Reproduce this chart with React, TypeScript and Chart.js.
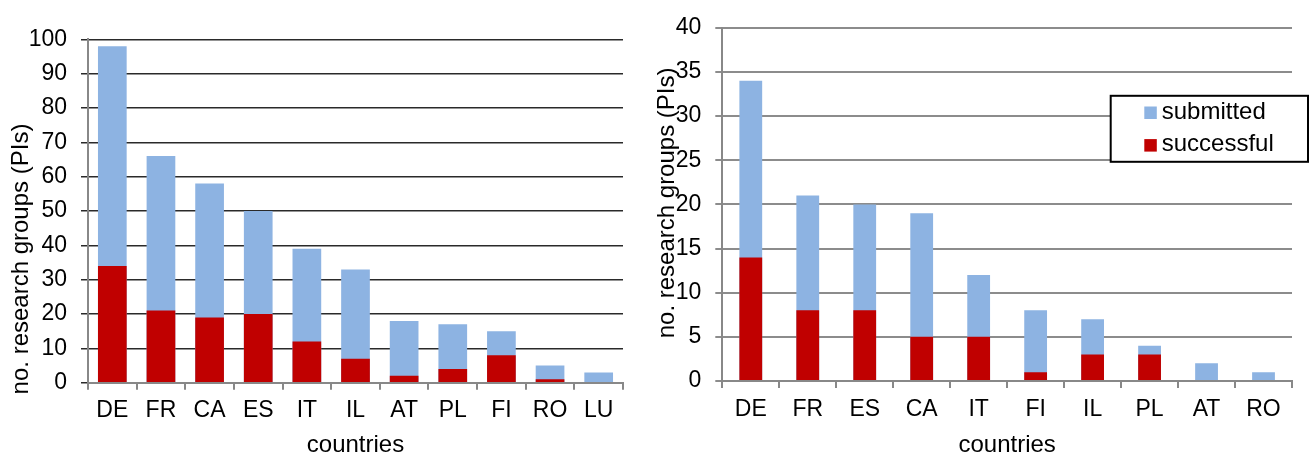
import { useEffect, useRef } from 'react';
import { Chart, registerables } from 'chart.js';

Chart.register(...registerables);

// ---- data ----
const leftCountries = ['DE', 'FR', 'CA', 'ES', 'IT', 'IL', 'AT', 'PL', 'FI', 'RO', 'LU'];
const leftSubmitted = [98, 66, 58, 50, 39, 33, 18, 17, 15, 5, 3];
const leftSuccessful = [34, 21, 19, 20, 12, 7, 2, 4, 8, 1, 0];

const rightCountries = ['DE', 'FR', 'ES', 'CA', 'IT', 'FI', 'IL', 'PL', 'AT', 'RO'];
const rightSubmitted = [34, 21, 20, 19, 12, 8, 7, 4, 2, 1];
const rightSuccessful = [14, 8, 8, 5, 5, 1, 3, 3, 0, 0];

const seriesLabels = ['submitted', 'successful'];
const seriesColors = ['#8DB3E2', '#C00000'];
const yAxisTitle = 'no. research groups (PIs)';
const xAxisTitle = 'countries';

const FONT = "'Liberation Sans', Arial, sans-serif";

// Rotated y-axis title drawn relative to the chart area
const yTitlePlugin = {
  id: 'yTitleText',
  afterDraw(chart: any, _args: any, opts: any) {
    if (!opts || !opts.text) return;
    const { ctx, chartArea } = chart;
    ctx.save();
    ctx.translate(chartArea.left + opts.dx, (chartArea.top + chartArea.bottom) / 2 + opts.dy);
    ctx.rotate(-Math.PI / 2);
    ctx.font = `${opts.size}px ${FONT}`;
    ctx.fillStyle = '#000';
    ctx.textAlign = 'center';
    ctx.textBaseline = 'middle';
    ctx.fillText(opts.text, 0, 0);
    ctx.restore();
  },
};

// Boxed legend inside the plot area
const boxLegendPlugin = {
  id: 'boxLegend',
  afterDraw(chart: any, _args: any, opts: any) {
    if (!opts || !opts.show) return;
    const { ctx, chartArea } = chart;
    const x = chartArea.right - opts.fromRight;
    const y = chartArea.top + opts.fromTop;
    ctx.save();
    ctx.fillStyle = '#fff';
    ctx.fillRect(x, y, opts.w, opts.h);
    ctx.strokeStyle = '#000';
    ctx.lineWidth = 2;
    ctx.strokeRect(x, y, opts.w, opts.h);
    ctx.font = `${opts.size}px ${FONT}`;
    ctx.textAlign = 'left';
    ctx.textBaseline = 'middle';
    chart.data.datasets.forEach((ds: any, i: number) => {
      const sy = y + 10.7 + i * 32.6;
      ctx.fillStyle = ds.backgroundColor;
      ctx.fillRect(x + 33.6, sy, 12.5, 12.5);
      ctx.fillStyle = '#000';
      ctx.fillText(ds.label, x + 51, sy + 5.5);
    });
    ctx.restore();
  },
};

type Cfg = {
  labels: string[];
  submitted: number[];
  successful: number[];
  max: number;
  step: number;
  barPct: number;
  padTop: number;
  padRight: number;
  yWidth: number;
  xHeight: number;
  gridColor: string;
  gridWidth: number;
  titleDx: number;
  titleDy: number;
  legend: boolean;
};

function makeChart(canvas: HTMLCanvasElement, c: Cfg) {
  return new Chart(canvas, {
    type: 'bar',
    data: {
      labels: c.labels,
      datasets: [
        {
          label: seriesLabels[0],
          data: c.submitted,
          backgroundColor: seriesColors[0],
          order: 2,
          barPercentage: c.barPct,
          categoryPercentage: 1,
        },
        {
          label: seriesLabels[1],
          data: c.successful,
          backgroundColor: seriesColors[1],
          order: 1,
          barPercentage: c.barPct,
          categoryPercentage: 1,
        },
      ],
    },
    options: {
      responsive: false,
      animation: false,
      events: [],
      layout: { padding: { left: 0, right: c.padRight, top: c.padTop, bottom: 0 } },
      plugins: {
        legend: { display: false },
        tooltip: { enabled: false },
        yTitleText: { text: yAxisTitle, dx: c.titleDx, dy: c.titleDy, size: 24 },
        boxLegend: { show: c.legend, fromRight: 181.3, fromTop: 68, w: 197.3, h: 66, size: 24 },
      } as any,
      scales: {
        x: {
          stacked: true,
          offset: true,
          grid: {
            display: true,
            offset: true,
            drawOnChartArea: false,
            drawTicks: true,
            tickLength: 7,
            color: '#888',
            lineWidth: 2,
          },
          border: { display: true, color: '#888', width: 2 },
          ticks: { color: '#000', font: { family: FONT, size: 23 }, padding: 7.5, maxRotation: 0, autoSkip: false },
          title: {
            display: true,
            text: xAxisTitle,
            color: '#000',
            font: { family: FONT, size: 24 },
            padding: { top: 0, bottom: -5 },
          },
          afterFit: (s: any) => {
            s.height = c.xHeight;
          },
        },
        y: {
          stacked: false,
          min: 0,
          max: c.max,
          ticks: { stepSize: c.step, color: '#000', font: { family: FONT, size: 23 }, padding: 14 },
          grid: {
            color: c.gridColor,
            lineWidth: c.gridWidth,
            drawTicks: true,
            tickLength: 7,
          },
          border: { display: true, color: '#888', width: 2 },
          afterFit: (s: any) => {
            s.width = c.yWidth;
          },
        },
      },
    },
    plugins: [yTitlePlugin, boxLegendPlugin],
  });
}

export default function App() {
  const leftRef = useRef<HTMLCanvasElement>(null);
  const rightRef = useRef<HTMLCanvasElement>(null);

  useEffect(() => {
    const left = makeChart(leftRef.current!, {
      labels: leftCountries,
      submitted: leftSubmitted,
      successful: leftSuccessful,
      max: 100,
      step: 10,
      barPct: 0.59,
      padTop: 39.3,
      padRight: 27,
      yWidth: 88,
      xHeight: 72.3,
      gridColor: '#2a2a2a',
      gridWidth: 1.5,
      titleDx: -66.3,
      titleDy: 48,
      legend: false,
    });
    const right = makeChart(rightRef.current!, {
      labels: rightCountries,
      submitted: rightSubmitted,
      successful: rightSuccessful,
      max: 40,
      step: 5,
      barPct: 0.4,
      padTop: 22,
      padRight: 18,
      yWidth: 72.3,
      xHeight: 74,
      gridColor: '#8c8c8c',
      gridWidth: 2,
      titleDx: -55.3,
      titleDy: -1.5,
      legend: true,
    });
    return () => {
      left.destroy();
      right.destroy();
    };
  }, []);

  return (
    <div style={{ position: 'absolute', left: 0, top: 0, width: 1310, height: 455, overflow: 'hidden', background: '#fff' }}>
      <canvas ref={leftRef} width={650} height={455} style={{ position: 'absolute', left: 0, top: 0 }} />
      <canvas ref={rightRef} width={660} height={455} style={{ position: 'absolute', left: 650, top: 0 }} />
    </div>
  );
}
